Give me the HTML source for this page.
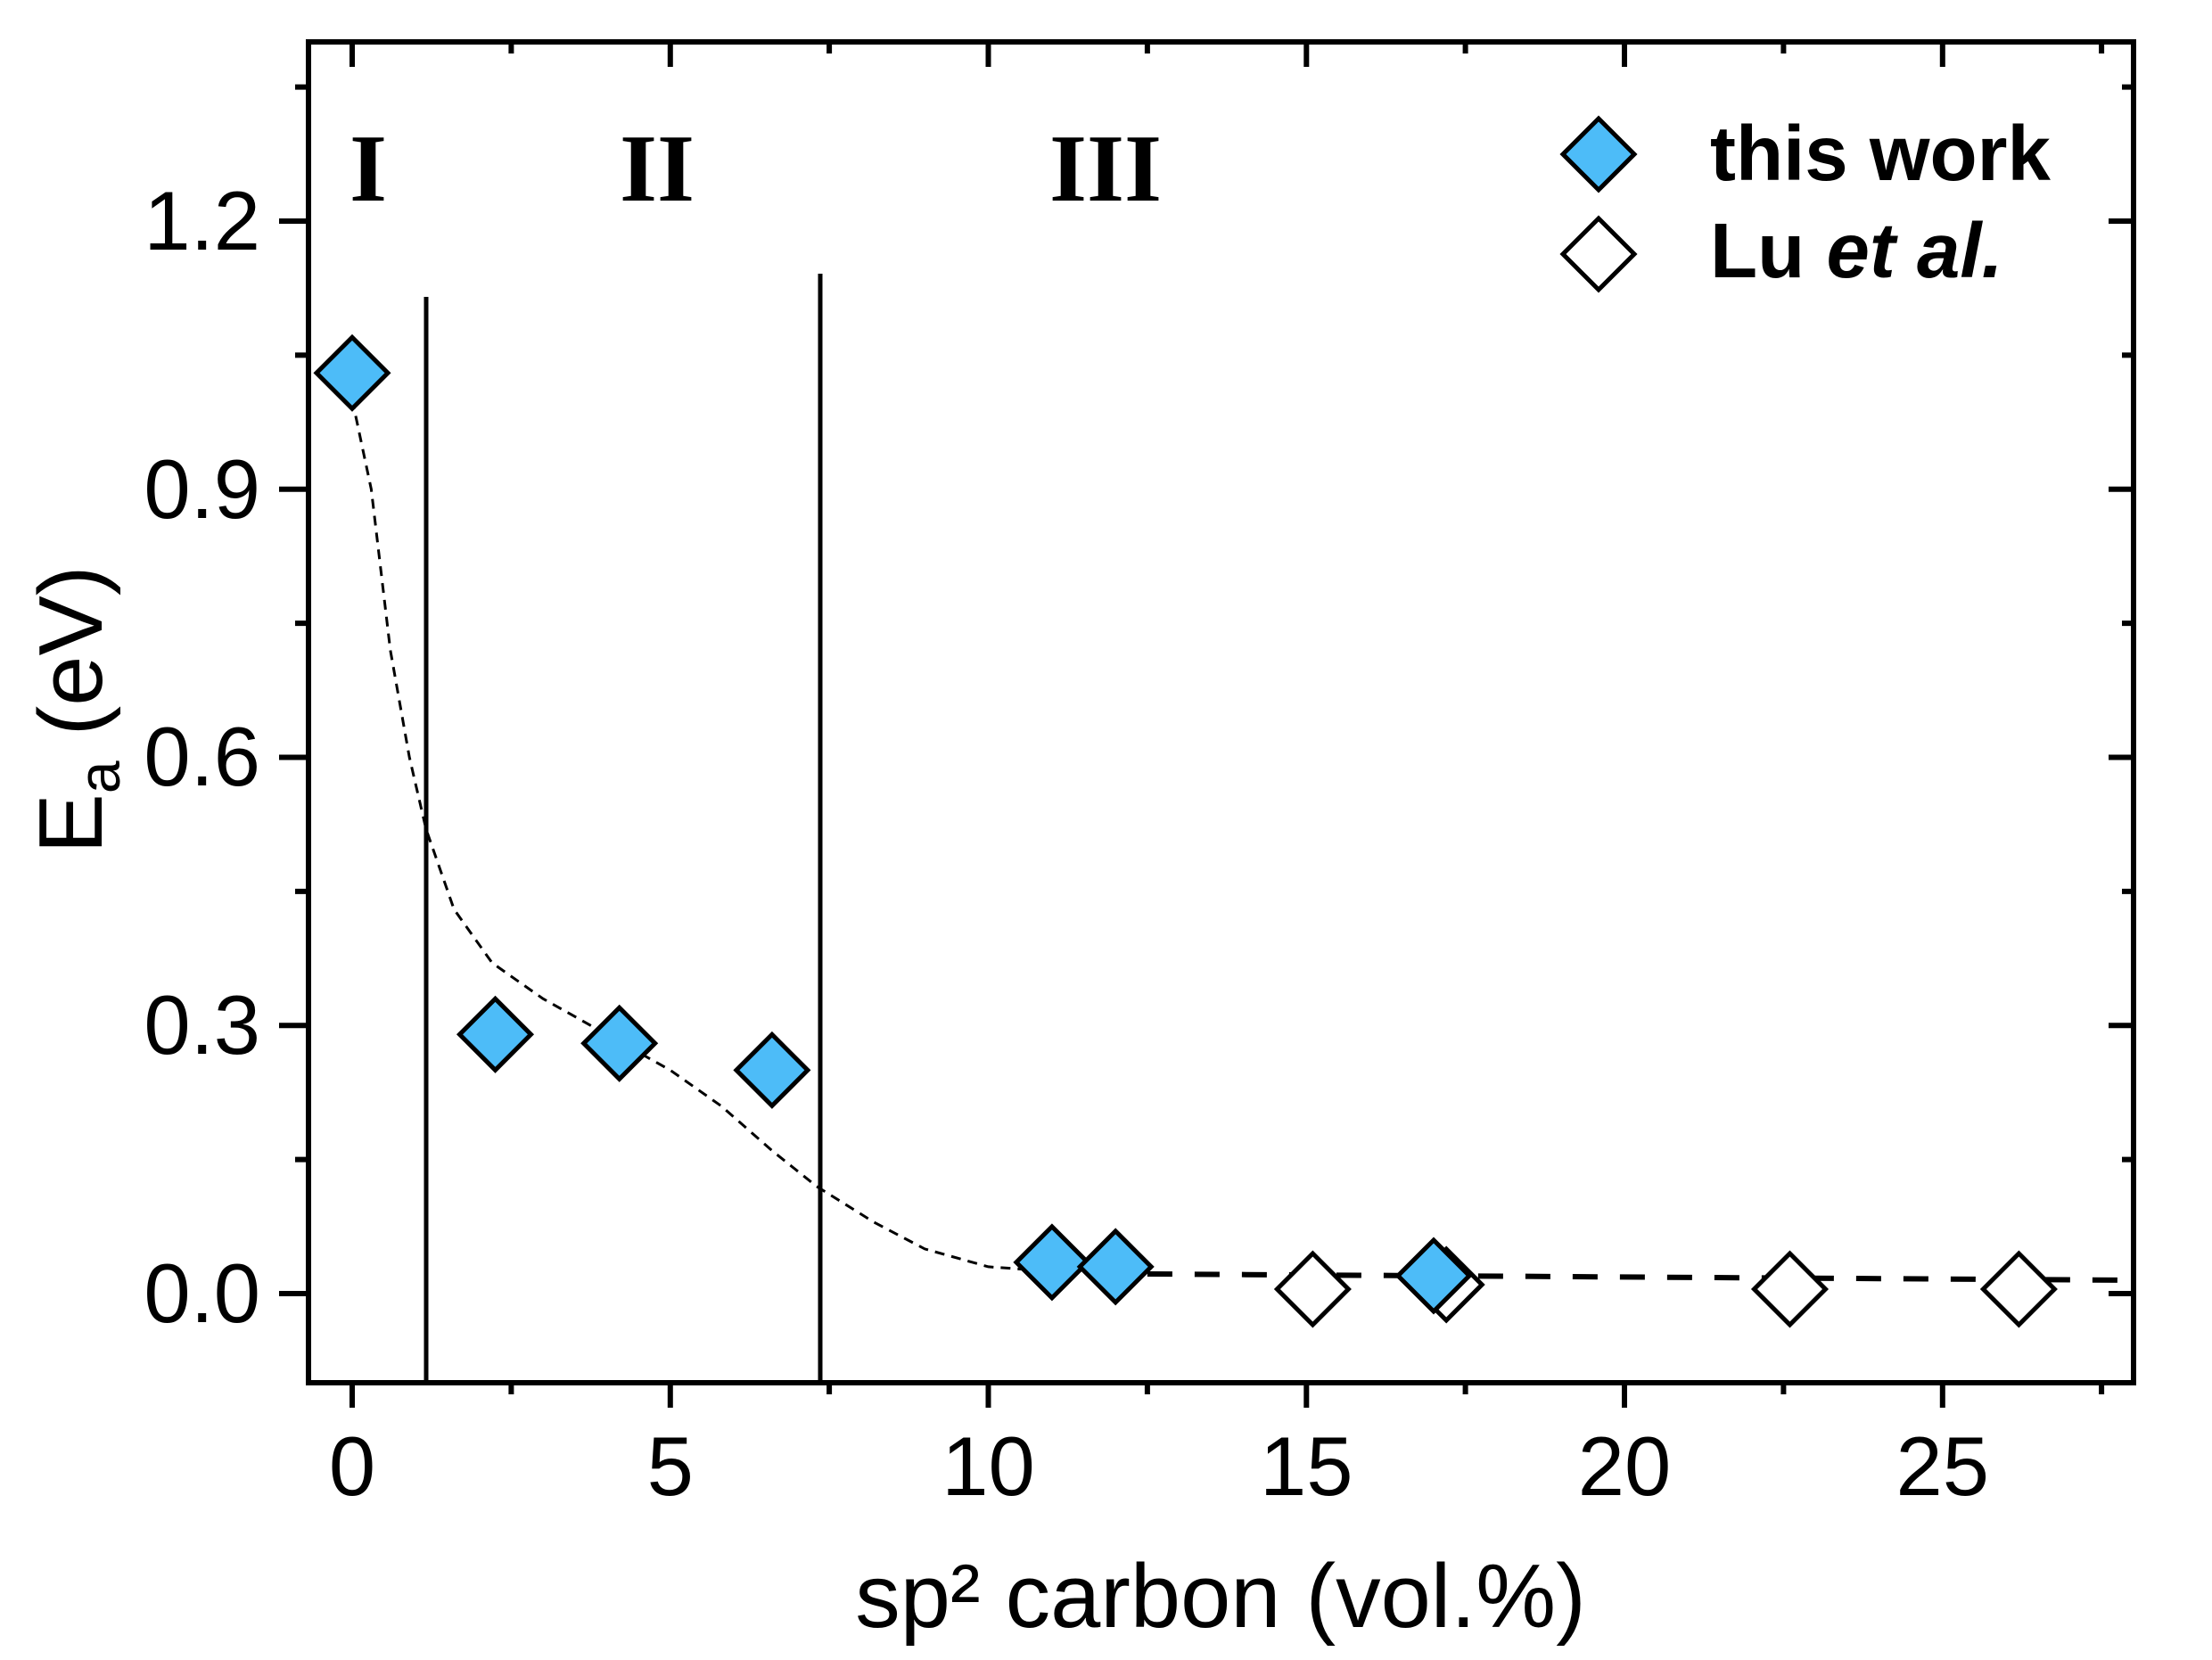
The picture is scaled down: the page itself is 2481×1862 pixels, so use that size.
<!DOCTYPE html>
<html><head><meta charset="utf-8"><style>
html,body{margin:0;padding:0;background:#fff;}
svg{display:block;}
</style></head><body>
<svg width="2481" height="1862" viewBox="0 0 2481 1862" xmlns="http://www.w3.org/2000/svg">
<rect width="2481" height="1862" fill="#fff"/>
<g stroke="#000" stroke-width="6">
<path d="M395 1551v28M751.8 1551v28M1108.5 1551v28M1465.3 1551v28M1822 1551v28M2178.8 1551v28"/>
<path d="M573.4 1551v13M930.1 1551v13M1286.9 1551v13M1643.6 1551v13M2000.4 1551v13M2357.1 1551v13"/>
<path d="M395 47v28M751.8 47v28M1108.5 47v28M1465.3 47v28M1822 47v28M2178.8 47v28"/>
<path d="M573.4 47v13M930.1 47v13M1286.9 47v13M1643.6 47v13M2000.4 47v13M2357.1 47v13"/>
<path d="M346 1451h-33M346 1150.3h-33M346 849.5h-33M346 548.8h-33M346 248h-33"/>
<path d="M346 1300.6h-15M346 999.9h-15M346 699.1h-15M346 398.4h-15M346 97.6h-15"/>
<path d="M2393 1451h-28M2393 1150.3h-28M2393 849.5h-28M2393 548.8h-28M2393 248h-28"/>
<path d="M2393 1300.6h-13M2393 999.9h-13M2393 699.1h-13M2393 398.4h-13M2393 97.6h-13"/>
</g>
<rect x="346" y="47" width="2047" height="1504" fill="none" stroke="#000" stroke-width="6"/>
<line x1="478" y1="333" x2="478" y2="1551" stroke="#000" stroke-width="5"/>
<line x1="920" y1="307" x2="920" y2="1551" stroke="#000" stroke-width="5"/>
<path d="M395 448 L416.4 548.8 L437.8 729.2 L459.2 849.5 L477.8 929.7 L509.2 1019.9 L552 1080.1 L609 1120.2 L680.4 1160.3 L751.8 1200.4 L808.8 1240.5 L865.9 1290.6 L915.9 1330.7 L980 1370.8 L1037.2 1400.9 L1108.5 1420.9 L1179.9 1426 L1286.9 1429" fill="none" stroke="#000" stroke-width="3" stroke-dasharray="11 8"/>
<path d="M1286.9 1429 L2393 1436" fill="none" stroke="#000" stroke-width="6" stroke-dasharray="28 25"/>
<g fill="#fff" stroke="#000" stroke-width="5">
<path d="M1472.4 1406l40 40-40 40-40-40z"/>
<path d="M1622.2 1401l40 40-40 40-40-40z"/>
<path d="M2007.5 1406l40 40-40 40-40-40z"/>
<path d="M2264.4 1406l40 40-40 40-40-40z"/>
</g>
<g fill="#4dbcf8" stroke="#000" stroke-width="5">
<path d="M395 378.4l40 40-40 40-40-40z"/>
<path d="M555.5 1120.3l40 40-40 40-40-40z"/>
<path d="M694.7 1130.3l40 40-40 40-40-40z"/>
<path d="M865.9 1160.4l40 40-40 40-40-40z"/>
<path d="M1179.9 1375.9l40 40-40 40-40-40z"/>
<path d="M1251.2 1380.9l40 40-40 40-40-40z"/>
<path d="M1608 1391l40 40-40 40-40-40z"/>
</g>
<g font-family="Liberation Serif, serif" font-weight="bold" font-size="108" text-anchor="middle">
<text x="413" y="225">I</text>
<text x="737" y="225">II</text>
<text x="1240" y="225">III</text>
</g>
<path d="M1793 133l40 40-40 40-40-40z" fill="#4dbcf8" stroke="#000" stroke-width="5"/>
<path d="M1793 245l40 40-40 40-40-40z" fill="#fff" stroke="#000" stroke-width="5"/>
<g font-family="Liberation Sans, sans-serif" font-weight="bold" font-size="87">
<text x="1918" y="202">this work</text>
<text x="1918" y="311">Lu <tspan font-style="italic">et al.</tspan></text>
</g>
<g font-family="Liberation Sans, sans-serif" font-size="94" text-anchor="end">
<text x="292" y="1483">0.0</text>
<text x="292" y="1182">0.3</text>
<text x="292" y="881">0.6</text>
<text x="292" y="581">0.9</text>
<text x="292" y="280">1.2</text>
</g>
<g font-family="Liberation Sans, sans-serif" font-size="94" text-anchor="middle">
<text x="395" y="1677">0</text>
<text x="751.8" y="1677">5</text>
<text x="1108.5" y="1677">10</text>
<text x="1465.3" y="1677">15</text>
<text x="1822" y="1677">20</text>
<text x="2178.8" y="1677">25</text>
</g>
<text x="1369" y="1825" font-family="Liberation Sans, sans-serif" font-size="101" text-anchor="middle">sp² carbon (vol.%)</text>
<text transform="translate(114 796) rotate(-90)" font-family="Liberation Sans, sans-serif" font-size="101" text-anchor="middle">E<tspan font-size="66" dy="20">a</tspan><tspan dy="-20"> (eV)</tspan></text>
</svg>
</body></html>
